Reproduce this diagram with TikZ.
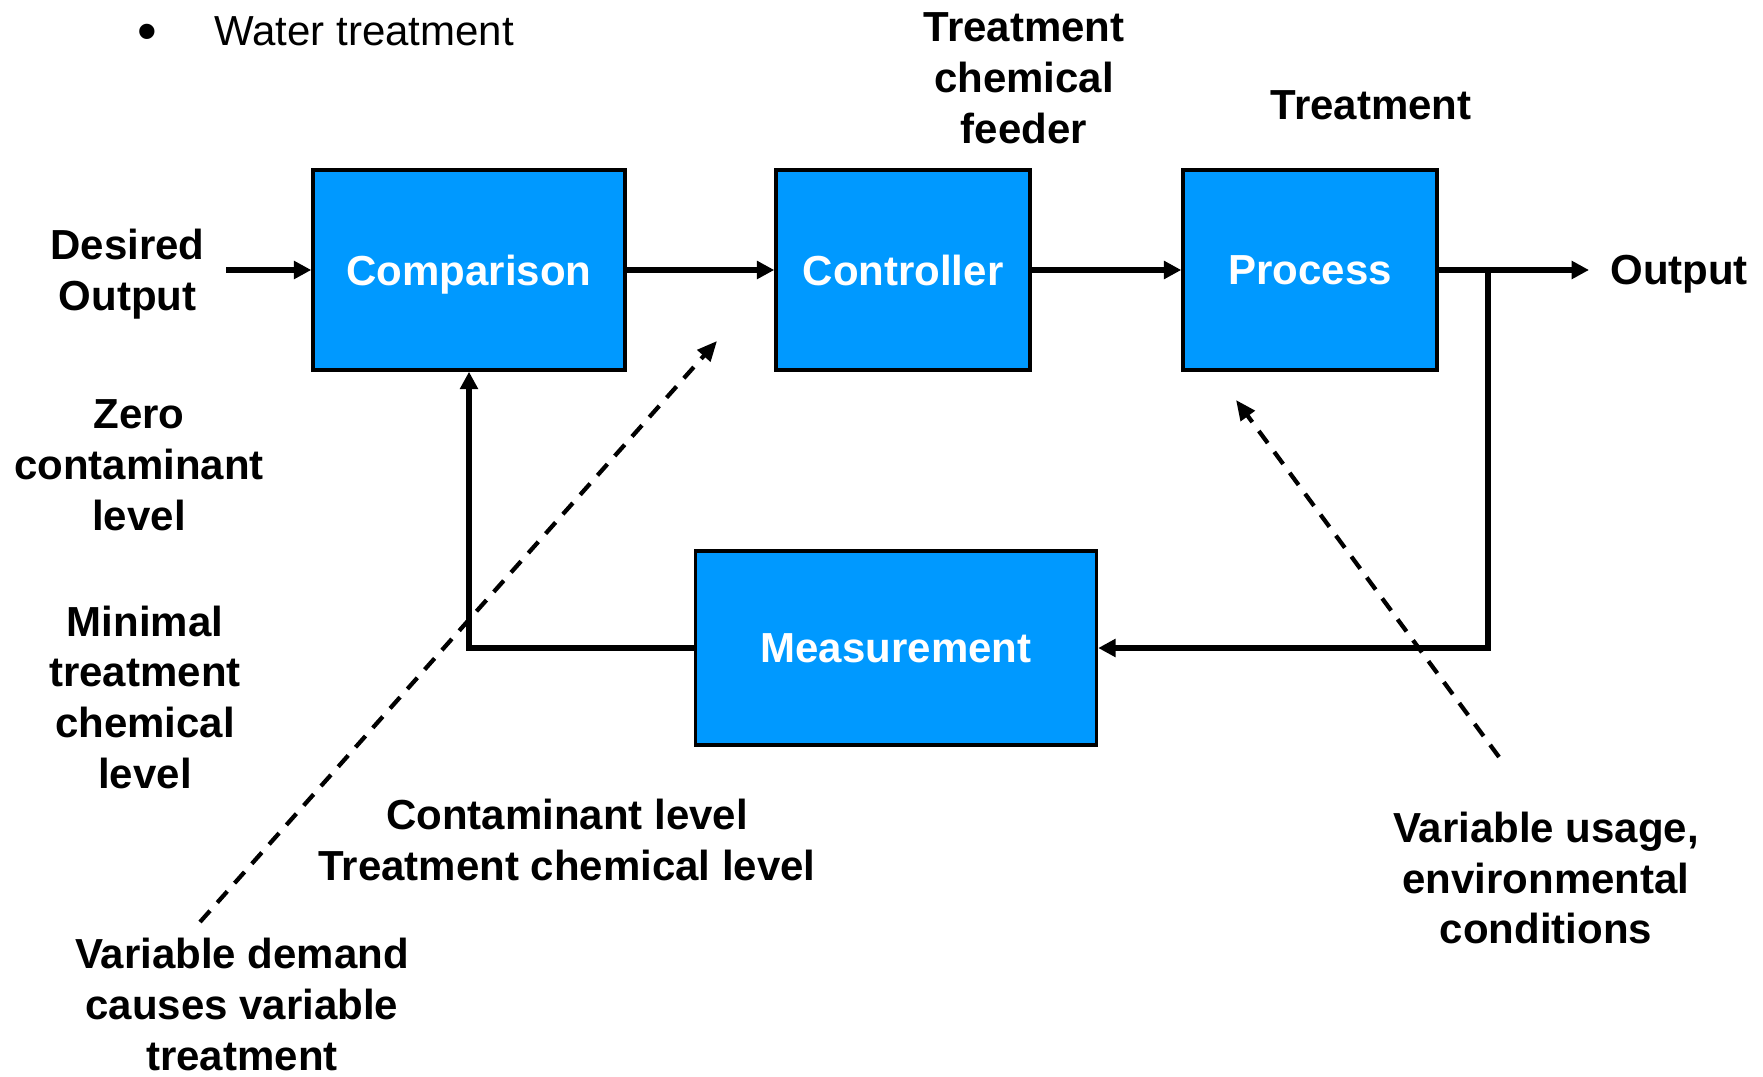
\documentclass[tikz,border=0pt]{standalone}
\usepackage{fontspec}
\setmainfont{Liberation Sans}
\usetikzlibrary{arrows.meta}
\definecolor{boxblue}{RGB}{0,153,255}
\newcommand{\lblfont}{\fontsize{23.9}{28.9}\selectfont\bfseries}
\tikzset{
  block/.style={draw=black, line width=0.07cm, fill=boxblue, text=white, text depth=0pt, font=\lblfont},
  lbl/.style={align=center, text depth=0pt, font=\lblfont},
  flow/.style={line width=0.12cm, -{Triangle[length=0.35cm,width=0.35cm]}},
  dist/.style={line width=0.085cm, dash pattern=on 0.3cm off 0.22cm, -{Triangle[length=0.4cm,width=0.34cm]}}
}
\begin{document}
\begin{tikzpicture}[x=0.02cm,y=-0.02cm]
\useasboundingbox (0,0) rectangle (1763,1077);
% blocks
\node[block, minimum width=6.24cm, minimum height=4cm] (cmp) at (469,270) {Comparison};
\node[block, minimum width=5.08cm, minimum height=4cm] (ctl) at (903,270) {Controller};
\node[block, minimum width=5.08cm, minimum height=4cm] (proc) at (1310,270) {Process};
\node[block, minimum width=8.02cm, minimum height=3.88cm] (meas) at (896,648) {Measurement};
% labels
\node[anchor=base, inner sep=0, font=\fontsize{32}{32}\selectfont] (bul) at (147,51) {•};
\node[anchor=west, inner sep=0, font=\fontsize{23.9}{28.9}\selectfont] (title) at (214,31) {Water treatment};
\node[lbl, anchor=east, inner xsep=0.42cm] (des) at (226,270) {Desired\\Output};
\node[lbl, anchor=west, inner xsep=0.42cm] (out) at (1589,270) {Output};
\node[lbl] (feeder) at (1024,78) {Treatment\\chemical\\feeder};
\node[lbl] (treat) at (1371,105) {Treatment};
\node[lbl] (zero) at (139,465) {Zero\\contaminant\\level};
\node[lbl] (minimal) at (145,697) {Minimal\\treatment\\chemical\\level};
\node[lbl] (meastxt) at (567,840) {Contaminant level\\Treatment chemical level};
\node[lbl] (demand) at (242,1004) {Variable demand\\causes variable\\treatment};
\node[lbl] (usage) at (1546,878) {Variable usage,\\environmental\\conditions};
% loop
\coordinate (tap) at (1488,270);
\draw[flow] (des) -- (cmp);
\draw[flow] (cmp) -- (ctl);
\draw[flow] (ctl) -- (proc);
\draw[flow] (proc) -- (out);
\draw[flow] (tap) |- (meas.east);
\draw[flow] (meas.west) -| (cmp.south);
% disturbances
\coordinate (dmd) at (200,922);
\coordinate (dmdtip) at (717,341);
\coordinate (use) at (1499,757);
\coordinate (usetip) at (1236,400);
\draw[dist] (dmd) -- (dmdtip);
\draw[dist] (use) -- (usetip);
\end{tikzpicture}
\end{document}
